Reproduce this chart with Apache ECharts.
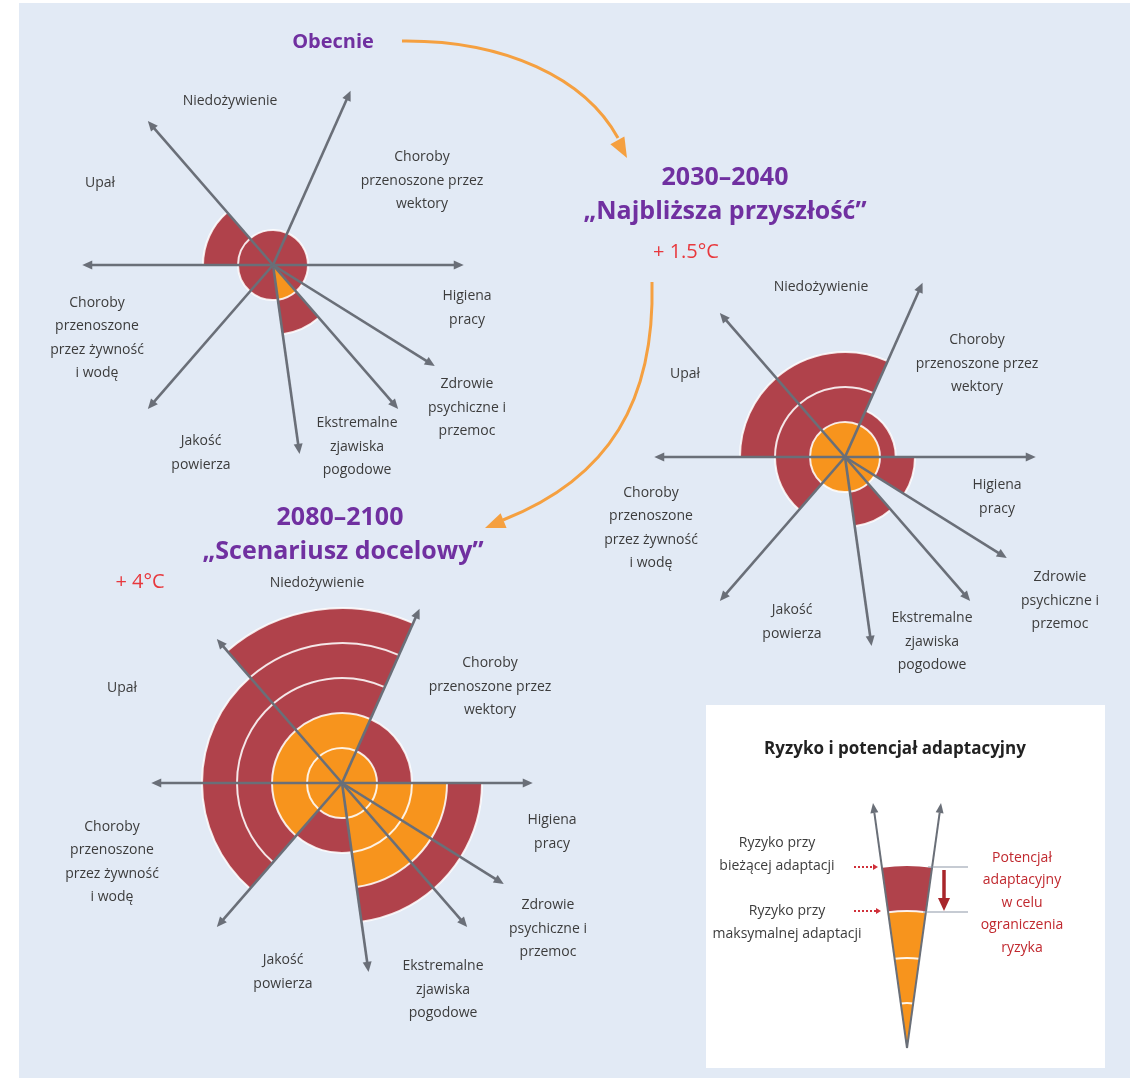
<!DOCTYPE html>
<html>
<head>
<meta charset="utf-8">
<script src="https://cdn.jsdelivr.net/npm/echarts@6/dist/echarts.min.js"></script>
<style>
  html, body { margin: 0; padding: 0; background: #fff; }
  #chart { width: 1140px; height: 1078px; }
</style>
</head>
<body>
<div id="chart"></div>
<script>
// sectors, counter-clockwise from east
const categories = [
  'Choroby\nprzenoszone przez\nwektory',
  'Niedożywienie',
  'Upał',
  'Choroby\nprzenoszone\nprzez żywność\ni wodę',
  'Jakość\npowierza',
  'Ekstremalne\nzjawiska\npogodowe',
  'Zdrowie\npsychiczne i\nprzemoc',
  'Higiena\npracy'
]
// sector borders in degrees (0 = east, counter-clockwise), the arrows sit on them
const sectorEdges = [0, 66, 131, 180, 229, 278, 311, 328, 360]

// risk level (rings) at current adaptation / at maximal adaptation
const riskNow = [1, 1, 2, 1, 1, 2, 1, 1]
const riskNowMaxAdapt = [0, 0, 0, 0, 0, 1, 0, 0]
const riskNear = [1.45, 3, 3, 2, 1, 2, 1, 2]
const riskNearMaxAdapt = [1, 1, 1, 1, 1, 1, 1, 1]
const riskFar = [2, 5, 4, 4, 2, 4, 4, 4]
const riskFarMaxAdapt = [1, 2, 2, 2, 1, 3, 3, 3]

const axisReach = 5.45 // arrow length, in ring units
const levelMax = 6

const RED = '#b0424b'
const ORANGE = '#f7941d'
const AXIS = '#6a6f78'
const TXT = '#3c3c3c'
const PURPLE = '#7030a0'
const TEMP = '#e8383d'
const FONT = '"Open Sans", "Noto Sans", sans-serif'

const panels = [
  { center: [273, 265], cur: riskNow, max: riskNowMaxAdapt,
    labels: [[422, 181], [230, 101], [100, 183], [97, 338], [201, 453], [357, 447], [467, 408], [467, 308]] },
  { center: [845, 457], cur: riskNear, max: riskNearMaxAdapt,
    labels: [[977, 364], [821, 287], [685, 374], [651, 528], [792, 622], [932, 642], [1060, 601], [997, 497]] },
  { center: [342, 783], cur: riskFar, max: riskFarMaxAdapt,
    labels: [[490, 687], [317, 583], [122, 688], [112, 862], [283, 972], [443, 990], [548, 929], [552, 832]] }
]

function buildCells(cur, max) {
  const cells = []
  cur.forEach((level, i) => {
    let lo = 0
    while (lo < level - 1e-9) {
      const hi = Math.min(Math.floor(lo + 1e-9) + 1, level)
      const kind = hi <= max[i] + 1e-9 ? 1 : 0
      cells.push([hi, sectorEdges[i], sectorEdges[i + 1], lo, kind])
      lo = hi
    }
  })
  return cells
}

function renderCell(params, api) {
  const hi = api.value(0), a1 = api.value(1), a2 = api.value(2), lo = api.value(3), kind = api.value(4)
  const c = api.coord([0, a1])
  const pA = api.coord([hi, a1])
  const pB = api.coord([hi, a2])
  const pL = api.coord([lo, a1])
  const r = Math.hypot(pA[0] - c[0], pA[1] - c[1])
  const r0 = Math.hypot(pL[0] - c[0], pL[1] - c[1])
  const s = Math.atan2(pB[1] - c[1], pB[0] - c[0])
  let e = Math.atan2(pA[1] - c[1], pA[0] - c[0])
  while (e <= s) e += Math.PI * 2
  const arcStyle = { stroke: 'rgba(255,255,255,0.85)', lineWidth: 2, fill: 'none' }
  const children = [{
    type: 'sector',
    shape: { cx: c[0], cy: c[1], r0: r0, r: r, startAngle: s, endAngle: e, clockwise: true },
    style: { fill: kind ? ORANGE : RED },
    z2: 1
  }, {
    type: 'arc',
    shape: { cx: c[0], cy: c[1], r: r, startAngle: s, endAngle: e, clockwise: true },
    style: arcStyle,
    z2: 5
  }]
  return { type: 'group', children: children }
}

function renderArrow(params, api) {
  const c = api.coord([0, api.value(1)])
  const t = api.coord([api.value(0), api.value(1)])
  const dx = t[0] - c[0], dy = t[1] - c[1]
  const len = Math.hypot(dx, dy)
  const ux = dx / len, uy = dy / len
  const hl = 10, hw = 4.5
  const bx = t[0] - ux * hl, by = t[1] - uy * hl
  return {
    type: 'group',
    children: [{
      type: 'line',
      shape: { x1: c[0], y1: c[1], x2: bx + ux * 2, y2: by + uy * 2 },
      style: { stroke: AXIS, lineWidth: 2.6 }
    }, {
      type: 'polygon',
      shape: { points: [[t[0], t[1]], [bx - uy * hw, by + ux * hw], [bx + uy * hw, by - ux * hw]] },
      style: { fill: AXIS }
    }]
  }
}

const series = []
panels.forEach((p, i) => {
  series.push({
    type: 'custom',
    coordinateSystem: 'polar',
    polarIndex: i,
    encode: { radius: 0, angle: 1 },
    renderItem: renderCell,
    data: buildCells(p.cur, p.max),
    silent: true,
    z: 2
  })
  series.push({
    type: 'custom',
    coordinateSystem: 'polar',
    polarIndex: i,
    encode: { radius: 0, angle: 1 },
    renderItem: renderArrow,
    data: sectorEdges.slice(0, -1).map(a => [axisReach, a]),
    silent: true,
    z: 3
  })
})

function text(x, y, str, opt) {
  return Object.assign({
    type: 'text', x: x, y: y, z: 10,
    style: Object.assign({
      text: str, fill: TXT, font: '14px ' + FONT, lineHeight: 23.5,
      align: 'center', verticalAlign: 'middle', textAlign: 'center', textVerticalAlign: 'middle'
    }, opt || {})
  })
}

function arrowHead(tip, dir, hl, hw, color) {
  const n = Math.hypot(dir[0], dir[1])
  const ux = dir[0] / n, uy = dir[1] / n
  const bx = tip[0] - ux * hl, by = tip[1] - uy * hl
  return {
    type: 'polygon', z: 10,
    shape: { points: [tip, [bx - uy * hw, by + ux * hw], [bx + uy * hw, by - ux * hw]] },
    style: { fill: color }
  }
}

const graphics = [
  { type: 'rect', z: -10, shape: { x: 19, y: 3, width: 1111, height: 1075 }, style: { fill: '#e2eaf5' } }
]
panels.forEach(p => {
  categories.forEach((name, k) => graphics.push(text(p.labels[k][0], p.labels[k][1], name)))
})

// titles
const titleFont = 'bold 25px ' + FONT
graphics.push(text(333, 42, 'Obecnie', { fill: PURPLE, font: 'bold 20px ' + FONT }))
graphics.push(text(725, 178, '2030–2040', { fill: PURPLE, font: titleFont }))
graphics.push(text(725, 212, '„Najbliższa przyszłość”', { fill: PURPLE, font: titleFont }))
graphics.push(text(686, 252, '+ 1.5°C', { fill: TEMP, font: '20px ' + FONT }))
graphics.push(text(340, 518, '2080–2100', { fill: PURPLE, font: titleFont }))
graphics.push(text(343, 552, '„Scenariusz docelowy”', { fill: PURPLE, font: titleFont }))
graphics.push(text(140, 582, '+ 4°C', { fill: TEMP, font: '20px ' + FONT }))

// orange connector arrows
const ARR = '#f5a040'
graphics.push({
  type: 'bezierCurve', z: 9,
  shape: { x1: 402, y1: 41, cpx1: 505, cpy1: 40, cpx2: 585, cpy2: 78, x2: 618, y2: 138 },
  style: { stroke: ARR, lineWidth: 3, fill: 'none' }
})
graphics.push(arrowHead([627, 158], [33, 60], 20, 8, ARR))
graphics.push({
  type: 'bezierCurve', z: 9,
  shape: { x1: 652, y1: 282, cpx1: 655, cpy1: 400, cpx2: 610, cpy2: 478, x2: 503, y2: 520 },
  style: { stroke: ARR, lineWidth: 3, fill: 'none' }
})
graphics.push(arrowHead([485, 528], [-100, 40], 20, 8, ARR))

// legend box
graphics.push({ type: 'rect', z: 1, shape: { x: 706, y: 705, width: 399, height: 363 }, style: { fill: '#ffffff' } })
graphics.push(text(895, 749, 'Ryzyko i potencjał adaptacyjny', { fill: '#222', font: 'bold 17px ' + FONT }))
const apex = [907, 1048]
const coneA = -97.8 * Math.PI / 180, coneB = -82.2 * Math.PI / 180
graphics.push({ type: 'sector', z: 5, shape: { cx: apex[0], cy: apex[1], r0: 0, r: 137, startAngle: coneA, endAngle: coneB }, style: { fill: ORANGE } })
graphics.push({ type: 'sector', z: 5, shape: { cx: apex[0], cy: apex[1], r0: 137, r: 182, startAngle: coneA, endAngle: coneB }, style: { fill: RED } })
;[45, 90, 137].forEach(r => graphics.push({
  type: 'arc', z: 6, shape: { cx: apex[0], cy: apex[1], r: r, startAngle: coneA, endAngle: coneB },
  style: { stroke: 'rgba(255,255,255,0.9)', lineWidth: 2, fill: 'none' }
}))
;[[873, 803], [941, 803]].forEach(tip => {
  graphics.push({ type: 'line', z: 7, shape: { x1: apex[0], y1: apex[1], x2: tip[0] + (apex[0] - tip[0]) * 0.04, y2: tip[1] + (apex[1] - tip[1]) * 0.04 }, style: { stroke: AXIS, lineWidth: 2 } })
  graphics.push(arrowHead(tip, [tip[0] - apex[0], tip[1] - apex[1]], 10, 4, AXIS))
})
graphics.push({ type: 'line', z: 7, shape: { x1: 928, y1: 867, x2: 968, y2: 867 }, style: { stroke: '#8d98a8', lineWidth: 1.2 } })
graphics.push({ type: 'line', z: 7, shape: { x1: 923, y1: 912, x2: 968, y2: 912 }, style: { stroke: '#8d98a8', lineWidth: 1.2 } })
graphics.push({ type: 'line', z: 7, shape: { x1: 944, y1: 870, x2: 944, y2: 899 }, style: { stroke: '#a8262b', lineWidth: 3.5 } })
graphics.push(arrowHead([944, 911], [0, 1], 13, 6, '#a8262b'))
;[[867, 878], [911, 881]].forEach(d => {
  graphics.push({ type: 'line', z: 7, shape: { x1: 854, y1: d[0], x2: d[1] - 4, y2: d[0] }, style: { stroke: '#d0303a', lineWidth: 2, lineDash: [2, 2] } })
  graphics.push(arrowHead([d[1], d[0]], [1, 0], 5, 3, '#d0303a'))
})
graphics.push(text(777, 855, 'Ryzyko przy\nbieżącej adaptacji', { lineHeight: 23 }))
graphics.push(text(787, 923, 'Ryzyko przy\nmaksymalnej adaptacji', { lineHeight: 23 }))
graphics.push(text(1022, 903, 'Potencjał\nadaptacyjny\nw celu\nograniczenia\nryzyka', { fill: '#c0282e', lineHeight: 22.5 }))

const chart = echarts.init(document.getElementById('chart'))
chart.setOption({
  backgroundColor: '#ffffff',
  animation: false,
  polar: panels.map(p => ({ center: p.center, radius: levelMax * 35 })),
  angleAxis: panels.map((p, i) => ({
    polarIndex: i, type: 'value', min: 0, max: 360, startAngle: 0, clockwise: false, show: false
  })),
  radiusAxis: panels.map((p, i) => ({
    polarIndex: i, type: 'value', min: 0, max: levelMax, show: false
  })),
  series: series,
  graphic: { elements: graphics }
})
</script>
</body>
</html>
